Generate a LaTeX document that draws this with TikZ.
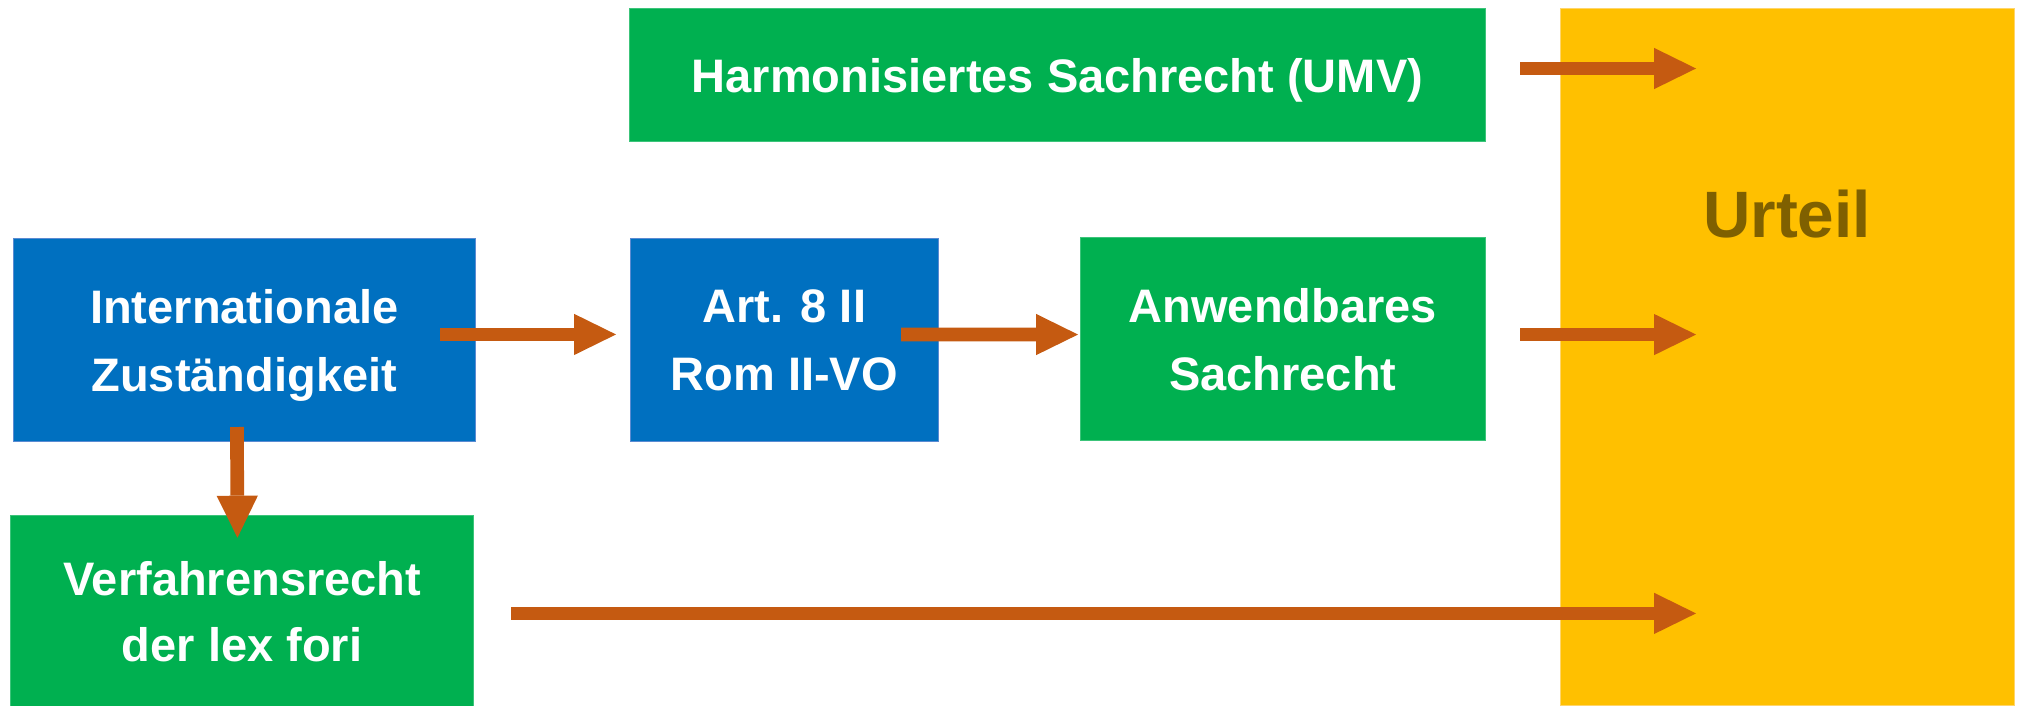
\documentclass[tikz,border=0pt]{standalone}
\usepackage{fontspec}
\setmainfont{Liberation Sans}
\usetikzlibrary{arrows.meta,calc}

\definecolor{boxgreen}{HTML}{00B050}
\definecolor{boxgreenedge}{HTML}{3CC47A}
\definecolor{boxblue}{HTML}{0070C0}
\definecolor{boxblueedge}{HTML}{5A8BD2}
\definecolor{boxgold}{HTML}{FFC000}
\definecolor{goldedge}{HTML}{FFD56A}
\definecolor{flowarrow}{HTML}{C55A11}
\definecolor{verdicttext}{HTML}{7F6000}

\begin{document}
\begin{tikzpicture}[x=1pt,y=-1pt,
  box/.style={rectangle, anchor=north west, inner sep=0pt, align=center,
    text=white, text depth=0pt, line width=1pt,
    font=\fontsize{47}{68}\selectfont\bfseries},
  greenbox/.style={box, fill=boxgreen, draw=boxgreenedge},
  bluebox/.style={box, fill=boxblue, draw=boxblueedge},
  flow/.style={draw=flowarrow, line width=13.7pt,
    -{Triangle[width=41.3pt,length=42pt,line width=0pt]}}
]
\useasboundingbox (0,0) rectangle (2020,705);

% verdict column
\node[rectangle, anchor=north west, inner sep=0pt, fill=boxgold, draw=goldedge,
  line width=1pt, minimum width=454pt, minimum height=697pt] (urteil) at (1560,8.3) {};
\node[font=\fontsize{65.6}{70}\selectfont\bfseries, text=verdicttext] (urteillabel)
  at (1787,214) {Urteil};

% sources of law
\node[greenbox, minimum width=856pt, minimum height=132.4pt] (harm) at (629,8.3)
  {Harmonisiertes Sachrecht (UMV)};
\node[bluebox, minimum width=461.5pt, minimum height=202.7pt] (int) at (13,238.3)
  {Internationale\\Zuständigkeit};
\node[bluebox, minimum width=308.4pt, minimum height=202.7pt] (art) at (629.6,238.3)
  {Art. 8 II\\Rom II-VO};
\node[greenbox, minimum width=405.4pt, minimum height=202.7pt] (anw) at (1079.6,237.3)
  {Anwendbares\\Sachrecht};
\node[greenbox, minimum width=462.7pt, minimum height=192pt,
  font=\fontsize{47}{66}\selectfont\bfseries] (verf) at (10.3,514.7)
  {Verfahrensrecht\\der lex fori};

% flow arrows
\draw[flow] ([shift={(-35.5,-5.7)}]int.east) -- ([shift={(-13.6,-5.7)}]art.west);
\draw[flow] ([shift={(-38,-5.7)}]art.east) -- ([shift={(-1.6,-4.6)}]anw.west);
\draw[flow] ([shift={(-7.3,-15)}]int.south) -- ([shift={(-7.3+2.6,23)}]verf.north);

\coordinate (fromharm) at ([shift={(34,-6.5)}]harm.east);
\coordinate (fromanw) at ([shift={(34,-4.6)}]anw.east);
\coordinate (fromverf) at ([shift={(37,2.2)}]verf.east);
\draw[flow] (fromharm) -- ($(urteil.west |- fromharm)+(136,0)$);
\draw[flow] (fromanw) -- ($(urteil.west |- fromanw)+(136,0)$);
\draw[flow] (fromverf) -- ($(urteil.west |- fromverf)+(136,0)$);
\end{tikzpicture}
\end{document}
